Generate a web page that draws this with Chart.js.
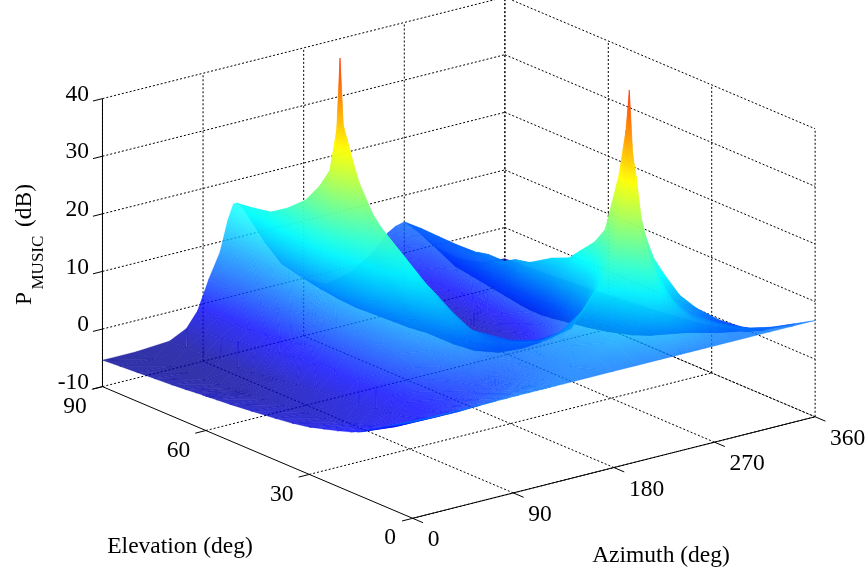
<!DOCTYPE html>
<html>
<head>
<meta charset="utf-8">
<title>MUSIC spectrum</title>
<style>
  html, body { margin: 0; background: #fff; }
  canvas { display: block; }
</style>
<script src="https://cdn.jsdelivr.net/npm/chart.js@4"></script>
</head>
<body>
<canvas id="music" width="868" height="575"></canvas>
<script>
const azimuths = [0, 30, 60, 75, 85, 95, 105, 112, 117, 120, 123, 128, 135, 145, 160, 180, 200, 222, 232, 237, 240, 243, 248, 255, 262, 270, 285, 300, 320, 340, 360];
const elevations = [0, 6, 12, 14, 15, 16, 18, 22, 26, 30, 35, 40, 47, 53, 57, 59, 60, 61, 63, 66, 70, 75, 80, 85, 90];

// P_MUSIC in dB, one list per elevation, same order as azimuths
const el0  = [6.7, 6.7, 6.7, 6.7, 6.7, 6.7, 6.7, 6.7, 6.7, 6.7, 6.7, 6.7, 6.7, 6.7, 6.7, 6.7, 6.7, 6.7, 6.7, 6.7, 6.7, 6.7, 6.7, 6.7, 6.7, 6.7, 6.7, 6.7, 6.7, 6.7, 6.7];
const el6  = [4.6, 4.2, 4.1, 4.2, 4.4, 4.6, 4.9, 5.1, 5.3, 5.4, 5.5, 5.7, 6, 6.4, 7, 8, 9.3, 11.5, 13, 13.7, 13.8, 13.7, 13.2, 12.2, 11, 9.8, 8.2, 7, 5.8, 5, 4.6];
const el12 = [2.4, 1.8, 1.7, 2, 2.4, 2.9, 3.4, 3.8, 4.1, 4.3, 4.5, 4.8, 5.2, 5.8, 6.8, 8.2, 10.2, 15, 21, 24.5, 25, 24, 21, 17, 14, 11.5, 8.6, 6.5, 4.2, 2.9, 2.4];
const el14 = [1.6, 1, 1, 1.3, 1.8, 2.3, 2.9, 3.4, 3.7, 3.9, 4.1, 4.5, 5, 5.7, 6.8, 8.3, 10.8, 17, 25, 33, 38, 34, 26, 19.5, 16, 13.5, 9.5, 7, 4.2, 2.2, 1.6];
const el15 = [1.2, 0.6, 0.7, 1, 1.5, 2.1, 2.7, 3.2, 3.6, 3.8, 4, 4.4, 5, 5.7, 6.8, 8.4, 11, 18, 27, 37, 48.8, 37, 27.5, 22.5, 18.5, 15.7, 11, 8, 5, 2.8, 1.2];
const el16 = [0.9, 0.3, 0.4, 0.8, 1.3, 1.9, 2.6, 3.1, 3.5, 3.7, 4, 4.4, 5, 5.7, 6.9, 8.4, 11, 17.5, 25, 32, 41.5, 36, 27, 21.5, 18, 15, 10.5, 7.5, 4.5, 2.3, 0.9];
const el18 = [0.4, -0.2, -0.1, 0.3, 0.9, 1.6, 2.5, 3.1, 3.6, 3.8, 4.1, 4.5, 5.1, 5.8, 6.6, 7.8, 9.5, 15, 21, 27, 33.3, 32, 25, 19.5, 16, 13, 9, 6.2, 3.4, 1.4, 0.4];
const el22 = [-0.4, -1, -0.8, -0.1, 0.8, 1.8, 3, 4, 4.6, 4.8, 5.2, 5.5, 5.9, 6.1, 6.1, 6.3, 7, 10, 14.5, 19, 22.8, 22.5, 19.5, 15.5, 12.5, 10, 6.5, 4, 1.5, 0, -0.4];
const el26 = [-1.1, -1.7, -1.2, -0.1, 1.2, 2.8, 4.6, 6, 6.8, 7.1, 7.5, 7.7, 7.6, 7, 6, 5, 4.6, 5.5, 9, 12.5, 15.5, 19.5, 16.5, 13, 10, 8, 4.8, 2.4, 0.2, -1, -1.1];
const el30 = [-1.8, -2.4, -1.5, 0, 1.8, 4, 6.3, 8, 9, 9.4, 9.8, 10, 9.5, 8, 6, 4.5, 3.3, 3.6, 6.5, 9.5, 12, 17, 15, 11.5, 8.5, 6.5, 3, 0.8, -1, -2, -1.8];
const el35 = [-2.4, -3, -1.8, 0.2, 2.3, 5, 8, 10.2, 11.3, 11.8, 12, 12.3, 11.5, 9.5, 6, 2.6, 0.8, 0.8, 3, 5, 7.5, 11.5, 14.2, 11, 7.5, 5.5, 1.5, -0.8, -2.8, -3, -2.4];
const el40 = [-2.8, -3.4, -2.2, 0.4, 2.5, 5.6, 9, 12, 13.5, 14, 14.3, 14.8, 14, 11.5, 7, 1.8, -0.8, -1.5, 0.5, 2, 3.5, 6, 12.9, 11, 7, 5, 0.5, -2, -4, -4, -2.8];
const el47 = [-3.3, -3.9, -2.8, 0.2, 2.4, 6, 10.5, 14, 16, 16.8, 17.5, 18, 17.5, 14, 7.5, 1.4, -2.6, -4, -2.5, -1.2, 0, 2, 10.3, 9.8, 6.5, 4.6, -0.6, -3.4, -5.2, -4.8, -3.3];
const el53 = [-3.7, -4.3, -3.3, -0.2, 1.8, 6, 11, 15, 19, 21, 23, 23, 20.5, 16, 8, 1.5, -3, -4.8, -3.5, -2.5, -1.5, 0, 5, 9, 6.5, 4.6, -1, -4, -5.6, -5.2, -3.7];
const el57 = [-3.9, -4.6, -3.7, -0.4, 1.2, 5.8, 11, 17, 24, 30, 31, 27.5, 23, 17, 8.5, 1.6, -3, -4.8, -3.8, -3, -2.2, -1, 3, 7.6, 6.8, 4.8, -1.2, -4.4, -5.7, -5.3, -3.9];
const el59 = [-4, -4.8, -3.9, -0.6, 1, 5.6, 11, 18, 27, 36, 35, 29, 24.5, 19, 9.5, 1.8, -3, -4.8, -3.9, -3.2, -2.4, -1.3, 2.2, 7, 7, 5, -1.3, -4.5, -5.7, -5.3, -4];
const el60 = [-4.1, -4.8, -4, -0.7, 0.8, 5.5, 11, 19, 34, 48.8, 37, 30.7, 25, 20.5, 10, 2, -3, -4.8, -4, -3.3, -2.5, -1.5, 1.8, 6.5, 7, 5, -1.4, -4.6, -5.7, -5.3, -4.1];
const el61 = [-4.1, -4.9, -4.1, -0.8, 0.7, 5.3, 11, 19, 29, 36, 30, 26, 21, 15, 7, 1, -3, -4.8, -4, -3.4, -2.7, -1.7, 1.5, 6, 7, 5.1, -1.4, -4.6, -5.7, -5.3, -4.1];
const el63 = [-4.2, -4.9, -4.2, -0.9, 0.5, 5, 10.5, 19, 25, 28.5, 25, 21.5, 17.5, 12, 5, 0.5, -3.2, -4.8, -4, -3.5, -2.9, -2, 0.7, 5, 7, 5.2, -1.4, -4.6, -5.6, -5.3, -4.2];
const el66 = [-4.4, -5, -4.4, -1.2, 0.2, 4.5, 10, 18, 23, 25, 21.5, 18, 14.5, 10, 4, -0.3, -3.4, -4.7, -4, -3.5, -3, -2.2, 0, 4, 6.6, 5.2, -1.2, -4.4, -5.5, -5.3, -4.4];
const el70 = [-4.6, -5.2, -4.6, -1.6, -0.2, 4, 9.5, 16.5, 20.5, 21.6, 19.5, 16, 12.5, 8.5, 3, -1, -3.5, -4.4, -3.6, -3, -2.6, -2, -0.4, 3, 5.8, 5.4, -0.8, -4, -5.4, -5.3, -4.6];
const el75 = [-4.8, -5.3, -4.7, -2, -0.6, 3.5, 9, 15, 18.5, 19, 17.5, 15, 11.5, 7.5, 2.5, -1.2, -3.4, -3.8, -2.8, -2.3, -2, -1.4, -0.2, 2, 4.8, 5.3, -0.4, -3.5, -5, -5.3, -4.8];
const el80 = [-5, -5.4, -4.8, -2.6, -1, 3.2, 8.3, 14, 16.6, 17, 16, 14, 11, 7, 2.5, -1, -3, -3, -1.8, -1.3, -1, -0.4, 0.5, 2, 4.2, 5.4, 0.2, -3, -4.8, -5.3, -5];
const el85 = [-5.2, -5.4, -4.9, -3.2, -1, 3.6, 8.2, 14, 16, 16.4, 15.6, 13.8, 11, 7, 2.8, -0.6, -2.4, -2, -0.8, -0.2, 0.2, 0.7, 1.5, 3, 4.6, 5.5, 1, -2.5, -4.6, -5.3, -5.2];
const el90 = [-5.4, -5.4, -5, -3.6, -1, 4, 8.2, 13.4, 16, 16, 15.5, 14, 11.5, 8, 3.5, 0, -2, -1, 0.2, 0.8, 1.2, 1.8, 2.8, 4.2, 5, 5.4, 2.5, -0.6, -3.5, -5, -5.4];
const surface = [el0, el6, el12, el14, el15, el16, el18, el22, el26, el30, el35, el40, el47, el53, el57, el59, el60, el61, el63, el66, el70, el75, el80, el85, el90];

const azTicks = [0, 90, 180, 270, 360];
const elTicks = [0, 30, 60, 90];
const zTicks = [-10, 0, 10, 20, 30, 40];

const colorMin = -6;
const colorMax = 62;
const colorBend = 0.85;
const surfaceAlpha = 0.8;

// fixed view of the matlab axes box, gives the position in canvas units
function project(az, el, z) {
    return {
        x: 412.7 + az * 1.1178 - el * 3.447,
        y: 518.3 - az * 0.282 - el * 1.463 - (z + 10) * 5.76
    };
}

function jet(z) {
    const t = Math.pow(Math.min(1, Math.max(0, (z - colorMin) / (colorMax - colorMin))), colorBend);
    const channel = (c) => Math.round(255 * Math.min(1, Math.max(0, 1.5 - Math.abs(4 * t - c))));
    return `rgba(${channel(3)},${channel(2)},${channel(1)},${surfaceAlpha})`;
}

// linear gradient along the slope of one flat triangle
function triangleFill(context) {
    const ds = context.dataset;
    const [za, zb, zc] = ds.heights;
    // options get resolved once before the first layout, scales have no pixels yet
    if (!context.chart.chartArea) {
        return jet((za + zb + zc) / 3);
    }
    const { x: sx, y: sy } = context.chart.scales;
    const [a, b, c] = ds.data.slice(0, 3).map((p) => ({ x: sx.getPixelForValue(p.x), y: sy.getPixelForValue(p.y) }));
    const zMin = Math.min(za, zb, zc);
    const zMax = Math.max(za, zb, zc);
    const det = (b.x - a.x) * (c.y - a.y) - (c.x - a.x) * (b.y - a.y);
    if (zMax - zMin < 0.01 || Math.abs(det) < 0.01) {
        return jet((za + zb + zc) / 3);
    }
    const gx = ((zb - za) * (c.y - a.y) - (zc - za) * (b.y - a.y)) / det;
    const gy = ((b.x - a.x) * (zc - za) - (c.x - a.x) * (zb - za)) / det;
    const mag = gx * gx + gy * gy;
    const low = za === zMin ? a : (zb === zMin ? b : c);
    const span = (zMax - zMin) / mag;
    const gradient = context.chart.ctx.createLinearGradient(low.x, low.y, low.x + gx * span, low.y + gy * span);
    for (let i = 0; i <= 8; i++) {
        gradient.addColorStop(i / 8, jet(zMin + (zMax - zMin) * i / 8));
    }
    return gradient;
}

function triangle(p, q, r) {
    const pts = [p, q, r].map((v) => project(v.az, v.el, v.z));
    return {
        data: [...pts, pts[0]],
        heights: [p.z, q.z, r.z],
        fill: 'shape',
        backgroundColor: triangleFill,
        borderColor: triangleFill,
        borderWidth: 0.25,
        pointRadius: 0,
        tension: 0
    };
}

function gridLine(from, to, solid) {
    return {
        data: [project(...from), project(...to)],
        fill: false,
        borderColor: '#000',
        borderWidth: 1,
        borderDash: solid ? [] : [2, 2],
        pointRadius: 0,
        tension: 0
    };
}

const datasets = [];

// chart.js paints the first dataset last, so the front cells come first
for (let e = 0; e < elevations.length - 1; e++) {
    for (let a = 0; a < azimuths.length - 1; a++) {
        const v = (i, j) => ({ az: azimuths[i], el: elevations[j], z: surface[j][i] });
        const p00 = v(a, e), p10 = v(a + 1, e), p01 = v(a, e + 1), p11 = v(a + 1, e + 1);
        if (Math.abs(p00.z - p11.z) <= Math.abs(p10.z - p01.z)) {
            datasets.push(triangle(p00, p10, p11), triangle(p00, p11, p01));
        } else {
            datasets.push(triangle(p00, p10, p01), triangle(p10, p11, p01));
        }
    }
}

// axes and ticks
datasets.push(gridLine([0, 90, -10], [0, 90, 40], true));
datasets.push(gridLine([0, 90, -10], [0, 0, -10], true));
datasets.push(gridLine([0, 0, -10], [360, 0, -10], true));
zTicks.forEach((z) => datasets.push(gridLine([-8.5, 90, z], [0, 90, z], true)));
elTicks.forEach((el) => datasets.push(gridLine([-9.5, el, -10], [0, el, -10], true)));
azTicks.forEach((az) => datasets.push(gridLine([az, -3, -10], [az, 0, -10], true)));

// dotted grid on the two back walls and the floor
zTicks.forEach((z) => {
    datasets.push(gridLine([0, 90, z], [360, 90, z]));
    datasets.push(gridLine([360, 90, z], [360, 0, z]));
});
azTicks.forEach((az) => {
    datasets.push(gridLine([az, 90, -10], [az, 90, 40]));
    if (az > 0) datasets.push(gridLine([az, 0, -10], [az, 90, -10]));
});
elTicks.forEach((el) => {
    datasets.push(gridLine([360, el, -10], [360, el, 40]));
    if (el < 90) datasets.push(gridLine([0, el, -10], [360, el, -10]));
});

const serif = '"Liberation Serif", "Times New Roman", serif';

const axisText = {
    id: 'axisText',
    afterDraw(chart) {
        const { ctx, scales } = chart;
        const put = (text, px, py, align) => {
            ctx.font = `23.5px ${serif}`;
            ctx.textAlign = align || 'center';
            ctx.fillText(text, scales.x.getPixelForValue(px), scales.y.getPixelForValue(py));
        };
        ctx.save();
        ctx.fillStyle = '#000';
        ctx.textBaseline = 'middle';
        zTicks.forEach((z) => {
            const p = project(0, 90, z);
            put(String(z), p.x - 13.5, p.y - 4, 'right');
        });
        elTicks.forEach((el) => {
            const p = project(0, el, -10);
            put(String(el), p.x - (el === 0 ? 22.7 : 27.5), p.y + 20);
        });
        azTicks.forEach((az) => {
            const p = project(az, 0, -10);
            put(String(az), p.x + 15, p.y + 22, 'left');
        });
        put('Elevation (deg)', 180, 547);
        put('Azimuth (deg)', 661, 556);

        // y title with the subscript, rotated as one piece
        ctx.translate(scales.x.getPixelForValue(31), scales.y.getPixelForValue(305));
        ctx.rotate(-Math.PI / 2);
        ctx.textBaseline = 'alphabetic';
        ctx.textAlign = 'left';
        ctx.font = `23.5px ${serif}`;
        ctx.fillText('P', 0, 0);
        ctx.font = `17px ${serif}`;
        ctx.fillText('MUSIC', 15.5, 12);
        ctx.font = `23.5px ${serif}`;
        ctx.fillText('(dB)', 78, 0);
        ctx.restore();
    }
};

new Chart(document.getElementById('music'), {
    type: 'line',
    data: { datasets },
    plugins: [axisText],
    options: {
        responsive: false,
        animation: false,
        events: [],
        clip: false,
        layout: { padding: 0 },
        plugins: { legend: { display: false }, tooltip: { enabled: false } },
        scales: {
            x: { type: 'linear', display: false, min: 0, max: 868 },
            y: { type: 'linear', display: false, min: 0, max: 575, reverse: true }
        }
    }
});
</script>
</body>
</html>
